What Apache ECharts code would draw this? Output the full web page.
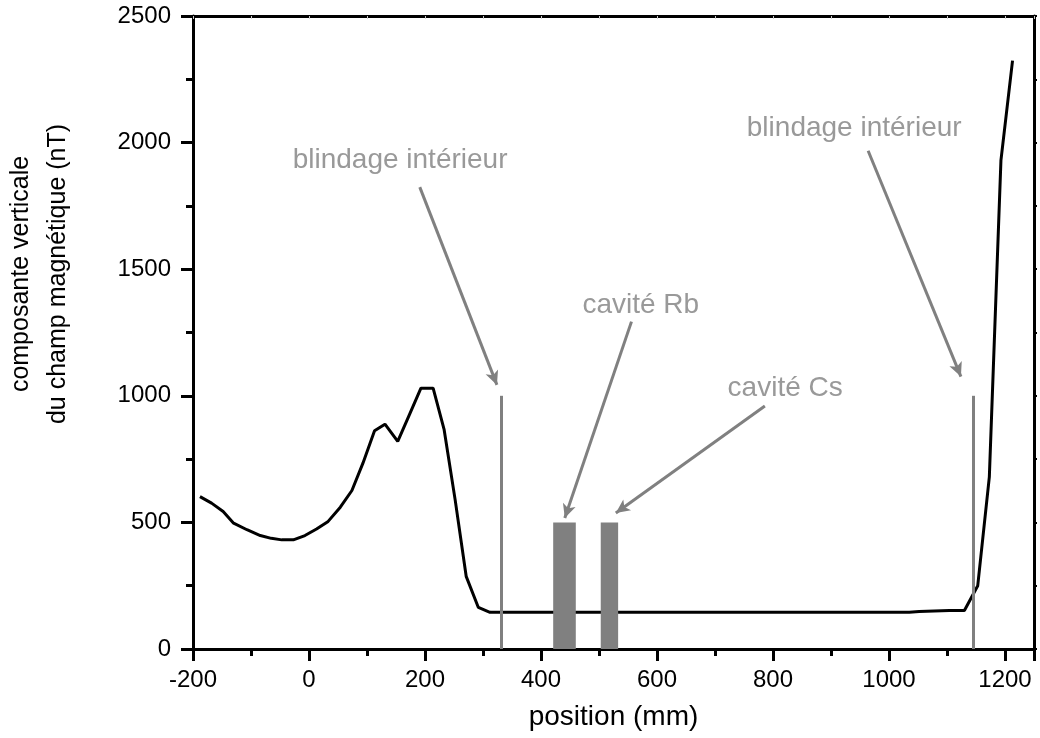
<!DOCTYPE html>
<html>
<head>
<meta charset="utf-8">
<script src="https://cdn.jsdelivr.net/npm/echarts@6/dist/echarts.min.js"></script>
<style>
  html, body { margin: 0; padding: 0; background: #fff; }
  #chart { width: 1040px; height: 738px; }
</style>
</head>
<body>
<div id="chart"></div>
<script>
// measured field along the axis (mm -> nT)
const posX = [-188, -168, -148, -130, -107, -84, -65, -47, -27, -7, 13, 33, 54, 74, 93, 113, 131, 153, 173, 193, 214,
  233, 252, 271, 292, 312, 1035, 1052, 1104, 1130, 1153, 1173, 1193, 1213];
const fieldY = [602, 576, 543, 497, 471, 448, 437, 431, 431, 448, 474, 504, 560, 626, 734, 862, 888, 820, 925, 1030, 1030,
  866, 589, 287, 164, 145, 145, 148, 152, 152, 250, 680, 1930, 2324];

// inner shield positions and height of the marker lines
const shieldX = [332, 1146];
const shieldTop = 1000;

// the two cells (start, end, height)
const cavityStart = [421, 503];
const cavityEnd = [460, 533];
const cavityTop = 500;

// annotations
const labelText = ['blindage intérieur', 'cavité Rb', 'cavité Cs', 'blindage intérieur'];
const labelX = [157, 572, 821, 940];
const labelY = [1931, 1359, 1031, 2058];
const arrowFrom = [[191, 1824], [556, 1293], [786, 960], [964, 1968]];
const arrowTo = [[324, 1043], [441, 517], [529, 537], [1124, 1076]];

const xTicks = [-200, 1250];
const yTicks = [0, 2500];

const font = "'Liberation Sans', Arial, sans-serif";
const grey = '#808080';

var chart = echarts.init(document.getElementById('chart'));

const lineData = posX.map((x, i) => [x, fieldY[i]]);
const cavityData = cavityStart.map((x, i) => [x, cavityEnd[i], cavityTop]);
const labelData = labelText.map((t, i) => ({ value: [labelX[i], labelY[i]], name: t }));

const plain = v => String(v);

const option = {
  animation: false,
  grid: { left: 193, right: 6, top: 16, bottom: 89 },
  xAxis: [{
    type: 'value',
    min: xTicks[0],
    max: xTicks[1],
    interval: 200,
    name: 'position (mm)',
    nameLocation: 'middle',
    nameGap: 54,
    nameTextStyle: { fontFamily: font, fontSize: 28, color: '#000' },
    axisLine: { onZero: false, lineStyle: { color: '#000', width: 3 } },
    axisTick: { length: 12, lineStyle: { width: 3, color: '#000' } },
    minorTick: { show: true, splitNumber: 2, length: 7, lineStyle: { width: 3, color: '#000' } },
    axisLabel: { fontFamily: font, fontSize: 24, color: '#000', margin: 19, showMaxLabel: false, formatter: plain },
    splitLine: { show: false }
  }, {
    type: 'value',
    position: 'top',
    min: xTicks[0],
    max: xTicks[1],
    interval: 200,
    axisLine: { onZero: false, lineStyle: { color: '#000', width: 3 } },
    axisTick: { length: 3, inside: true, lineStyle: { width: 1, color: '#ccc' } },
    minorTick: { show: true, splitNumber: 2, length: 3, lineStyle: { width: 1, color: '#ccc' } },
    axisLabel: { show: false },
    splitLine: { show: false }
  }],
  yAxis: [{
    type: 'value',
    min: yTicks[0],
    max: yTicks[1],
    interval: 500,
    axisLine: { show: true, onZero: false, lineStyle: { color: '#000', width: 3 } },
    axisTick: { show: true, length: 12, lineStyle: { width: 3, color: '#000' } },
    minorTick: { show: true, splitNumber: 2, length: 7, lineStyle: { width: 3, color: '#000' } },
    axisLabel: { fontFamily: font, fontSize: 24, color: '#000', margin: 22, formatter: plain },
    splitLine: { show: false }
  }, {
    type: 'value',
    position: 'right',
    min: yTicks[0],
    max: yTicks[1],
    interval: 500,
    axisLine: { show: true, onZero: false, lineStyle: { color: '#000', width: 3 } },
    axisTick: { show: true, length: 3, lineStyle: { width: 2, color: '#000' } },
    minorTick: { show: true, splitNumber: 2, length: 3, lineStyle: { width: 2, color: '#000' } },
    axisLabel: { show: false },
    splitLine: { show: false }
  }],
  graphic: [{
    type: 'text',
    x: 40,
    y: 274,
    rotation: Math.PI / 2,
    style: {
      text: 'composante verticale\ndu champ magnétique (nT)',
      font: '25px ' + font,
      fill: '#000',
      align: 'center',
      verticalAlign: 'middle',
      lineHeight: 37
    }
  }],
  series: [{
    type: 'line',
    data: lineData,
    symbol: 'none',
    lineStyle: { color: '#000', width: 3 },
    z: 2
  }, {
    type: 'custom',
    data: cavityData,
    z: 3,
    renderItem: function (params, api) {
      const p0 = api.coord([api.value(0), api.value(2)]);
      const p1 = api.coord([api.value(1), 0]);
      return {
        type: 'rect',
        shape: { x: p0[0], y: p0[1], width: p1[0] - p0[0], height: p1[1] - p0[1] },
        style: { fill: grey }
      };
    }
  }, {
    type: 'line',
    data: [],
    z: 4,
    markLine: {
      silent: true,
      animation: false,
      symbol: ['none', 'none'],
      label: { show: false },
      lineStyle: { color: grey, width: 3, type: 'solid' },
      data: shieldX.map(x => [{ coord: [x, 0] }, { coord: [x, shieldTop] }])
    }
  }, {
    type: 'line',
    data: [],
    z: 4,
    markLine: {
      silent: true,
      animation: false,
      symbol: ['none', 'arrow'],
      symbolSize: [10, 14],
      label: { show: false },
      lineStyle: { color: grey, width: 3, type: 'solid' },
      data: arrowFrom.map((f, i) => [{ coord: f }, { coord: arrowTo[i] }])
    }
  }, {
    type: 'scatter',
    data: labelData,
    symbolSize: 0,
    z: 5,
    label: {
      show: true,
      position: 'inside',
      formatter: p => p.name,
      fontFamily: font,
      fontSize: 28,
      color: grey
    }
  }]
};

chart.setOption(option);
</script>
</body>
</html>
